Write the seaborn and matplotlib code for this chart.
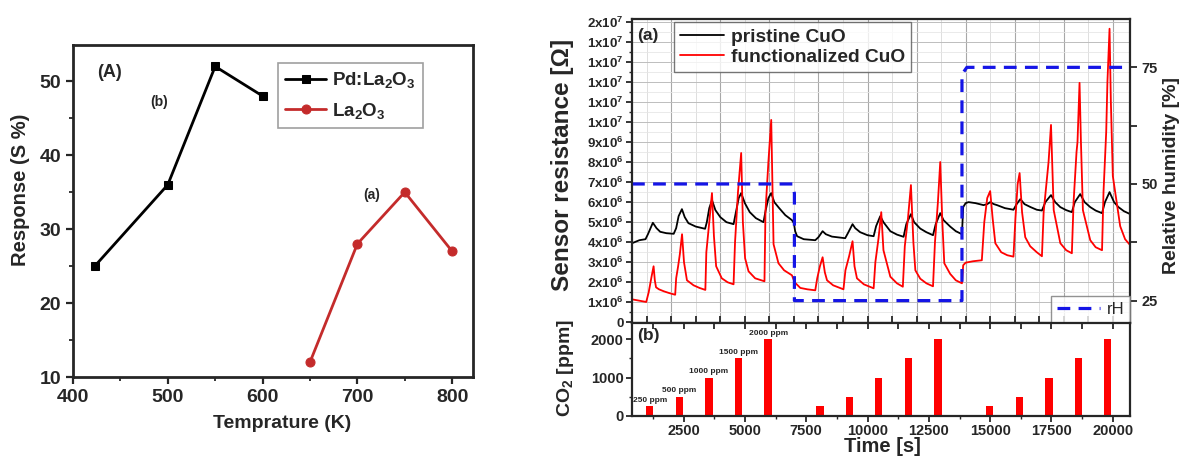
import matplotlib
matplotlib.use("Agg")
import matplotlib.pyplot as plt
import seaborn as sns
from matplotlib.ticker import MultipleLocator, FixedLocator, NullFormatter

# ---------------- data ----------------
# Panel (A): response vs temperature
temp_pd = [423, 500, 550, 600]
resp_pd = [25, 36, 52, 48]
temp_la = [650, 700, 750, 800]
resp_la = [12, 28, 35, 27]

# Panel (a): sensor resistance (MOhm) vs time (s)
t_pristine = [400, 700, 950, 1050, 1250, 1400, 1550, 1800, 2100,
              2200, 2300, 2435, 2550, 2700, 3000, 3380,
              3450, 3550, 3660, 3800, 4000, 4250, 4540,
              4620, 4750, 4850, 5000, 5200, 5450, 5760,
              5850, 5960, 6075, 6200, 6400, 6650, 6920,
              7000, 7050, 7130, 7400, 7870,
              8000, 8170, 8300, 8550, 9090,
              9200, 9390, 9500, 9700, 10000, 10250,
              10350, 10520, 10650, 10930, 11200, 11470,
              11580, 11770, 11900, 12150, 12400, 12670,
              12780, 12965, 13100, 13370, 13600, 13850,
              13900, 14000, 14120, 14400, 14730, 14880, 15000, 15150, 15280, 15600, 15950,
              16080, 16230, 16400, 16650, 16900, 17110,
              17250, 17480, 17650, 17860, 18100, 18330,
              18450, 18670, 18850, 19080, 19300, 19560,
              19680, 19866, 20050, 20230, 20450, 20710]
r_pristine = [3.95, 4.1, 4.15, 4.4, 4.97, 4.7, 4.52, 4.45, 4.42,
              4.7, 5.3, 5.65, 5.25, 4.95, 4.78, 4.67,
              5.0, 5.7, 6.1, 5.6, 5.25, 5.0, 4.9,
              5.4, 6.2, 6.45, 5.95, 5.5, 5.2, 5.0,
              5.6, 6.2, 6.45, 6.0, 5.7, 5.35, 5.1,
              4.95, 4.55, 4.3, 4.15, 4.1,
              4.25, 4.55, 4.4, 4.28, 4.2,
              4.45, 4.9, 4.7, 4.5, 4.35, 4.3,
              4.8, 5.3, 5.0, 4.55, 4.38, 4.27,
              4.9, 5.4, 5.0, 4.68, 4.5, 4.35,
              4.9, 5.45, 5.1, 4.78, 4.55, 4.4,
              5.75, 5.95, 6.0, 5.95, 5.85, 5.9, 6.0, 5.9, 5.85, 5.7, 5.62,
              5.9, 6.15, 5.9, 5.75, 5.62, 5.58,
              6.0, 6.35, 6.0, 5.75, 5.6, 5.5,
              6.0, 6.4, 6.0, 5.75, 5.58, 5.45,
              6.0, 6.5, 6.0, 5.75, 5.55, 5.4]

t_func = [400, 700, 980, 1080, 1200, 1280, 1330, 1380, 1500, 1700, 1900, 2160,
          2200, 2280, 2350, 2440, 2520, 2640, 2800, 2910, 3150, 3390,
          3430, 3550, 3660, 3740, 3830, 4060, 4300, 4540,
          4600, 4720, 4850, 4920, 5010, 5150, 5420, 5800,
          5840, 5960, 6075, 6140, 6170, 6370, 6600, 6920,
          7030, 7260, 7550, 7870,
          7950, 8060, 8170, 8260, 8350, 8600, 9020,
          9100, 9250, 9390, 9470, 9570, 9850, 10250,
          10320, 10450, 10560, 10650, 10930, 11200, 11440,
          11520, 11650, 11770, 11870, 11950, 12150, 12400, 12670,
          12750, 12870, 12965, 13050, 13130, 13370, 13600, 13850,
          13900, 14000, 14300, 14660,
          14760, 14880, 15000, 15100, 15210, 15450, 15700, 15950,
          16030, 16120, 16200, 16300, 16430, 16630, 16900, 17110,
          17180, 17300, 17380, 17480, 17590, 17860, 18100, 18330,
          18400, 18520, 18560, 18643, 18700, 18780, 19080, 19300, 19560,
          19620, 19730, 19780, 19866, 19920, 20000, 20300, 20500, 20710]
r_func = [1.15, 1.08, 1.02, 1.5, 2.3, 2.8, 2.1, 1.75, 1.65, 1.55, 1.47, 1.38,
          2.2, 2.8, 3.4, 4.4, 3.0, 2.1, 1.95, 1.85, 1.72, 1.62,
          3.5, 5.0, 6.45, 4.3, 2.8, 2.2, 2.0, 1.9,
          4.0, 6.5, 8.45, 5.0, 3.2, 2.55, 2.2, 2.05,
          5.5, 8.0, 10.1, 6.0, 3.9, 2.95, 2.6, 2.35,
          2.0, 1.72, 1.65, 1.6,
          2.2, 2.8, 3.25, 2.5, 2.1, 1.85, 1.65,
          2.6, 3.3, 4.05, 2.8, 2.2, 1.9, 1.7,
          3.0, 4.2, 5.5, 3.6, 2.28, 1.95, 1.78,
          3.8, 5.2, 6.85, 4.0, 2.6, 2.18, 1.95, 1.8,
          4.0, 6.0, 8.0, 5.0, 2.95, 2.42, 2.1, 1.95,
          2.85, 2.98, 3.05, 3.1,
          5.0, 6.2, 6.55, 5.2, 3.95, 3.5, 3.35, 3.28,
          5.2, 6.9, 7.45, 5.5, 4.25, 3.8, 3.5, 3.3,
          5.5, 7.0, 8.0, 9.85, 5.6, 3.95, 3.6, 3.45,
          6.0, 8.5, 9.0, 11.95, 9.0, 5.6, 4.1, 3.75, 3.6,
          6.5, 9.5, 12.0, 14.65, 11.0, 7.3, 4.8, 4.15, 3.85]

# relative humidity step profile
rh_time = [400, 6950, 7020, 7020, 13850, 13850, 14050, 20700]
rh_value = [50, 50, 48, 25, 25, 73.5, 75, 75]

# Panel (b): CO2 pulses
co2_time = [1120, 2330, 3540, 4740, 5950, 8060, 9270, 10460, 11670, 12870,
            14970, 16190, 17400, 18590, 19790]
co2_ppm = [250, 500, 1000, 1500, 2000, 250, 500, 1000, 1500, 2000,
           250, 500, 1000, 1500, 2000]
co2_labels = ["250 ppm", "500 ppm", "1000 ppm", "1500 ppm", "2000 ppm"]

r_tick_values = [0, 1, 2, 3, 4, 5, 6, 7, 8, 9, 10, 11, 12, 13, 14, 15]
r_tick_labels = ["0", "1x10$^{6}$", "2x10$^{6}$", "3x10$^{6}$", "4x10$^{6}$",
                 "5x10$^{6}$", "6x10$^{6}$", "7x10$^{6}$", "8x10$^{6}$",
                 "9x10$^{6}$", "1x10$^{7}$", "1x10$^{7}$", "1x10$^{7}$",
                 "1x10$^{7}$", "1x10$^{7}$", "2x10$^{7}$"]

# ---------------- style ----------------
sns.set_theme(style="ticks")
plt.rcParams['font.family'] = ['Liberation Sans', 'DejaVu Sans']
plt.rcParams['font.weight'] = 'bold'
plt.rcParams['axes.labelweight'] = 'bold'
plt.rcParams['mathtext.fontset'] = 'custom'
plt.rcParams['mathtext.rm'] = 'Liberation Sans:bold'
plt.rcParams['mathtext.bf'] = 'Liberation Sans:bold'
plt.rcParams['mathtext.it'] = 'Liberation Sans:bold:italic'
plt.rcParams['mathtext.sf'] = 'Liberation Sans:bold'
plt.rcParams['mathtext.default'] = 'rm'

W, H = 1184, 457
fig = plt.figure(figsize=(W / 100, H / 100), dpi=100)


def box(l, t, r, b):
    return [l / W, 1 - b / H, (r - l) / W, (b - t) / H]


# ---------------- left panel ----------------
axL = fig.add_axes(box(73, 45, 473, 377))
sns.lineplot(x=temp_pd, y=resp_pd, ax=axL, color='black', marker='s',
             markersize=6, markeredgecolor='black', linewidth=2,
             label='Pd:La$_2$O$_3$')
sns.lineplot(x=temp_la, y=resp_la, ax=axL, color='#c42b2b', marker='o',
             markersize=6.5, markeredgecolor='#c42b2b', linewidth=2,
             label='La$_2$O$_3$')
axL.set_xlim(400, 822)
axL.set_ylim(10, 54.9)
axL.xaxis.set_major_locator(MultipleLocator(100))
axL.xaxis.set_minor_locator(MultipleLocator(50))
axL.yaxis.set_major_locator(MultipleLocator(10))
axL.yaxis.set_minor_locator(MultipleLocator(5))
axL.tick_params(which='major', direction='out', length=5, width=1.6,
                labelsize=14)
axL.tick_params(which='minor', direction='out', length=3, width=1.3)
for s in axL.spines.values():
    s.set_linewidth(2)
axL.set_xlabel('')
axL.set_ylabel('')
fig.text(282 / W, 1 - 423 / H, 'Temprature (K)', ha='center', va='center',
         fontsize=14, fontweight='bold')
fig.text(21 / W, 1 - 190 / H, 'Response (S %)', ha='center', va='center',
         rotation=90, fontsize=14.5, fontweight='bold')
axL.text(438, 51.2, '(A)', ha='center', va='center', fontsize=13,
         fontweight='bold')
axL.text(491, 47.2, '(b)', ha='center', va='center', fontsize=10,
         fontweight='bold')
axL.text(715, 34.6, '(a)', ha='center', va='center', fontsize=10,
         fontweight='bold')
legL = axL.legend(loc='upper right', bbox_to_anchor=(0.875, 0.946),
                  borderaxespad=0, fontsize=13.5, frameon=True,
                  fancybox=False, handlelength=2.2, handletextpad=0.3,
                  labelspacing=0.55, borderpad=0.4)
legL.get_frame().set_edgecolor('#888888')
legL.get_frame().set_linewidth(1.2)

# ---------------- right top panel ----------------
axT = fig.add_axes(box(632, 19.3, 1130, 323))
sns.lineplot(x=t_pristine, y=[v * 1e6 for v in r_pristine], ax=axT,
             color='black', linewidth=1.3, estimator=None, sort=False,
             label='pristine CuO')
sns.lineplot(x=t_func, y=[v * 1e6 for v in r_func], ax=axT,
             color='#ff0000', linewidth=1.3, estimator=None, sort=False,
             label='functionalized CuO')
axT.set_xlim(400, 20700)
axT.set_ylim(-0.03e6, 15.12e6)
axT.yaxis.set_major_locator(FixedLocator([v * 1e6 for v in r_tick_values]))
axT.set_yticklabels(r_tick_labels)
axT.yaxis.set_minor_locator(MultipleLocator(0.5e6))
axT.xaxis.set_major_locator(MultipleLocator(2000))
axT.xaxis.set_minor_locator(MultipleLocator(1000))
axT.tick_params(axis='x', which='both', direction='in', labelbottom=False,
                length=5, width=1.3)
axT.tick_params(axis='y', which='major', direction='out', length=4,
                width=1.3, labelsize=9.5, pad=2)
axT.tick_params(axis='y', which='minor', direction='out', length=2.5,
                width=1.0)
axT.grid(True, axis='x', which='major', color='#a8a8a8', linewidth=0.8)
axT.grid(True, axis='x', which='minor', color='#dedede', linewidth=0.7)
axT.grid(True, axis='y', which='major', color='#bdbdbd', linewidth=0.7)
axT.grid(True, axis='y', which='minor', color='#e6e6e6', linewidth=0.6)
axT.set_axisbelow(True)
for s in axT.spines.values():
    s.set_linewidth(1.6)
axT.set_xlabel('')
axT.set_ylabel('')
legT = axT.legend(loc='upper left', bbox_to_anchor=(0.084, 0.99),
                  borderaxespad=0, fontsize=13.8, frameon=True, fancybox=False,
                  handlelength=2.3, handletextpad=0.4, labelspacing=0.15,
                  borderpad=0.3)
legT.get_frame().set_edgecolor('#555555')
legT.get_frame().set_linewidth(1.0)
axT.text(0.01, 0.948, '(a)', transform=axT.transAxes, ha='left',
         va='center', fontsize=12.5, fontweight='bold')

axR = axT.twinx()
sns.lineplot(x=rh_time, y=rh_value, ax=axR, color='#1515e6', linewidth=2.3,
             linestyle=(0, (4, 2.6)), estimator=None, sort=False, label='rH')
axR.set_ylim(20.2, 85.3)
axR.yaxis.set_major_locator(FixedLocator([25, 50, 75]))
axR.yaxis.set_minor_locator(FixedLocator([37.5, 62.5]))
axR.tick_params(axis='y', which='major', direction='out', length=5,
                width=1.3, labelsize=10.5)
axR.tick_params(axis='y', which='minor', direction='out', length=5,
                width=1.3)
axR.set_ylabel('')
legR = axR.legend(loc='lower right', borderaxespad=0,
                  prop={'size': 12, 'weight': 'normal'}, frameon=True,
                  fancybox=False, handlelength=2.6, handletextpad=0.4,
                  borderpad=0.35)
legR.get_frame().set_edgecolor('#777777')
legR.get_frame().set_linewidth(1.0)

fig.text(563 / W, 1 - 165 / H, 'Sensor resistance [Ω]', ha='center',
         va='center', rotation=90, fontsize=17.5, fontweight='bold')
fig.text(1172 / W, 1 - 175 / H, 'Relative humidity [%]', ha='center',
         va='center', rotation=90, fontsize=14, fontweight='bold')

# ---------------- right bottom panel ----------------
axB = fig.add_axes(box(632, 323, 1130, 415.7))
axB.bar(co2_time, co2_ppm, width=300, color='#ff0000', edgecolor='none')
axB.set_xlim(400, 20700)
axB.set_ylim(0, 2430)
axB.xaxis.set_major_locator(MultipleLocator(2500))
axB.xaxis.set_minor_locator(MultipleLocator(1250))
axB.yaxis.set_major_locator(FixedLocator([0, 1000, 2000]))
axB.yaxis.set_minor_locator(FixedLocator([500, 1500]))
axB.tick_params(which='major', direction='out', length=4, width=1.3,
                labelsize=10.5, pad=2)
axB.tick_params(which='minor', direction='out', length=2.5, width=1.0)
for s in axB.spines.values():
    s.set_linewidth(1.6)
axB.set_xticks([2500, 5000, 7500, 10000, 12500, 15000, 17500, 20000])
axB.set_xlim(400, 20700)
secB = axB.secondary_xaxis('top')
secB.xaxis.set_major_locator(MultipleLocator(1250))
secB.xaxis.set_major_formatter(NullFormatter())
secB.tick_params(direction='in', length=4, width=1.3)
for t, v, lab in zip(co2_time[:5], co2_ppm[:5], co2_labels):
    axB.text(t, v + 60, lab, ha='center', va='bottom', fontsize=6,
             fontweight='bold')
axB.text(0.01, 0.87, '(b)', transform=axB.transAxes, ha='left',
         va='center', fontsize=12.5, fontweight='bold')
fig.text(566 / W, 1 - 368 / H, 'CO$_2$ [ppm]', ha='center', va='center',
         rotation=90, fontsize=14, fontweight='bold')
fig.text(882 / W, 1 - 447 / H, 'Time [s]', ha='center', va='center',
         fontsize=14.5, fontweight='bold')

fig.savefig('out.png', dpi=100)
